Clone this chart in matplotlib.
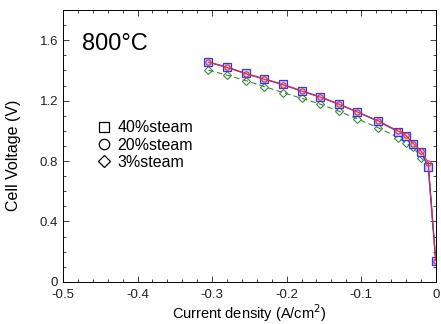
import matplotlib
matplotlib.use("Agg")
import matplotlib.pyplot as plt
from matplotlib.lines import Line2D
from matplotlib.ticker import MultipleLocator

plt.rcParams['font.family'] = ['Liberation Sans', 'DejaVu Sans']

# current density (A/cm2) and cell voltage (V)
current = [-0.305, -0.28, -0.255, -0.23, -0.205, -0.18, -0.155, -0.13,
           -0.105, -0.078, -0.05, -0.04, -0.03, -0.02, -0.01, 0.0]
v_40 = [1.455, 1.422, 1.380, 1.344, 1.307, 1.265, 1.225, 1.177,
        1.124, 1.066, 0.994, 0.965, 0.912, 0.863, 0.760, 0.141]
v_20 = [1.455, 1.420, 1.378, 1.342, 1.305, 1.263, 1.223, 1.177,
        1.125, 1.068, 0.998, 0.970, 0.915, 0.868, 0.790, 0.141]
v_3 = [1.402, 1.369, 1.333, 1.293, 1.254, 1.216, 1.177, 1.130,
       1.079, 1.022, 0.956, 0.918, 0.895, 0.823, 0.770, 0.141]
legend_labels = ["40%steam", "20%steam", "3%steam"]
legend_markers = ["s", "o", "D"]
xticks = [-0.5, -0.4, -0.3, -0.2, -0.1, 0]
xticklabels = ['-0.5', '-0.4', '-0.3', '-0.2', '-0.1', '0']
yticks = [0, 0.4, 0.8, 1.2, 1.6]
yticklabels = ['0', '0.4', '0.8', '1.2', '1.6']

fig = plt.figure(figsize=(4.41, 3.24), dpi=100)
ax = fig.add_axes([0.143, 0.13, 0.845, 0.839])

ax.plot(current, v_3, color='#3a8a3a', ls=(0, (5, 3)), lw=0.8,
        marker='D', ms=4, mfc='none', mec='#3a8a3a', mew=0.8)
ax.plot(current, v_40, color='#3535f0', lw=1.0,
        marker='s', ms=5.5, mfc='#d0d0ff', mec='#3535f0', mew=0.9)
ax.plot(current, v_20, color='#e03030', lw=0.8,
        marker='o', ms=3.8, mfc='none', mec='#e03030', mew=0.8)

ax.set_xlim(-0.5, 0)
ax.set_ylim(0, 1.8)
ax.set_xticks(xticks)
ax.set_xticklabels(xticklabels)
ax.set_yticks(yticks)
ax.set_yticklabels(yticklabels)
ax.xaxis.set_minor_locator(MultipleLocator(0.02))
ax.yaxis.set_minor_locator(MultipleLocator(0.1))
ax.tick_params(which='both', direction='in', top=True, right=True,
               labelsize=9.5, width=0.6, colors='#222222')
ax.tick_params(which='major', length=4)
ax.tick_params(which='minor', length=2)
ax.tick_params(axis='x', pad=5)
for s in ax.spines.values():
    s.set_linewidth(0.7)

ax.set_xlabel('Current density (A/cm$^2$)', fontsize=10.5)
ax.xaxis.set_label_coords(0.5, -0.075)
ax.set_ylabel('Cell Voltage (V)', fontsize=11.5)
ax.yaxis.set_label_coords(-0.112, 0.465)

ax.text(0.052, 0.875, '800\u00b0C', transform=ax.transAxes, fontsize=17,
        va='center', ha='left')

handles = [Line2D([], [], ls='none', marker=m, ms=7.5 if m != 'D' else 6.5,
                  mfc='none', mec='black', mew=0.9) for m in legend_markers]
ax.legend(handles, legend_labels, loc='upper left',
          bbox_to_anchor=(0.093, 0.595), frameon=False, fontsize=11.5,
          handlelength=0.8, handletextpad=0.45, labelspacing=0.15,
          borderpad=0, borderaxespad=0)

fig.savefig('out.png', dpi=100)
